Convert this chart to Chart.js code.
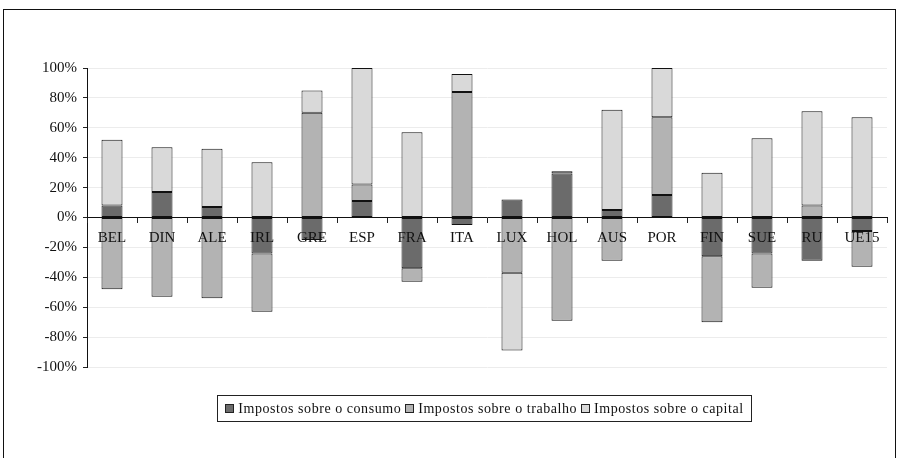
<!DOCTYPE html>
<html lang="pt">
<head>
    <meta charset="UTF-8">
    <title>Impostos</title>
    <script src="https://cdn.jsdelivr.net/npm/chart.js"></script>
    <style>
        body { margin: 0; background: #fff; }
        #wrap { position: relative; width: 901px; height: 458px; overflow: hidden; }
        #frame { position: absolute; left: 3px; top: 9px; width: 893px; height: 470px; border: 1px solid #111; box-sizing: border-box; pointer-events: none; }
        #legend { position: absolute; left: 217px; top: 395px; width: 535px; height: 27px; box-sizing: border-box;
                  border: 1px solid #222; display: flex; align-items: center; justify-content: center;
                  font-family: "Liberation Serif", serif; font-size: 14px; letter-spacing: 0.55px; color: #111; white-space: nowrap; }
        #legend span.item { display: inline-flex; align-items: center; margin: 0 2px; }
        #legend span.box { display: inline-block; width: 7px; height: 7px; border: 1px solid #222; margin-right: 4px; }
    </style>
</head>
<body>
    <div id="wrap">
        <canvas id="chart" width="901" height="458"></canvas>
        <div id="frame"></div>
        <div id="legend"></div>
    </div>

    <script>
        const categories = ['BEL', 'DIN', 'ALE', 'IRL', 'GRE', 'ESP', 'FRA', 'ITA', 'LUX', 'HOL', 'AUS', 'POR', 'FIN', 'SUE', 'RU', 'UE15'];
        const consumo  = [8, 17, 7, -24, -15, 11, -34, -5, 12, 29.5, 5, 15, -26, -24, -29, -9];
        const trabalho = [-48, -53, -54, -39, 70, 11, -9, 84, -37, -69, -29, 52, -44, -23, 8, -24];
        const capital  = [44, 30, 39, 37, 15, 78, 57, 12, -52, 1.5, 67, 33, 30, 53, 63, 67];
        const yTicks = [-100, -80, -60, -40, -20, 0, 20, 40, 60, 80, 100];

        const serif = '"Liberation Serif", "Times New Roman", serif';

        function series(label, data, color) {
            return {
                label: label,
                data: data,
                backgroundColor: color,
                borderColor: '#111',
                borderWidth: 1,
                borderSkipped: false,
                categoryPercentage: 1,
                barPercentage: 0.42
            };
        }

        const ctx = document.getElementById('chart').getContext('2d');
        const chart = new Chart(ctx, {
            type: 'bar',
            data: {
                labels: categories,
                datasets: [
                    series('Impostos sobre o consumo', consumo, '#6b6b6b'),
                    series('Impostos sobre o trabalho', trabalho, '#b3b3b3'),
                    series('Impostos sobre o capital', capital, '#d9d9d9')
                ]
            },
            options: {
                responsive: false,
                animation: false,
                layout: { padding: { left: 0, right: 14, top: 68, bottom: 91 } },
                plugins: {
                    legend: { display: false },
                    tooltip: { enabled: false }
                },
                scales: {
                    x: {
                        stacked: true,
                        position: { y: 0 },
                        // eixo e nomes dos países por cima das barras
                        grid: { z: 1, drawOnChartArea: false, drawTicks: true, tickLength: 5, color: '#222', tickColor: '#222' },
                        border: { z: 1, color: '#111', width: 1 },
                        ticks: { z: 1, color: '#111', padding: 7, font: { family: serif, size: 15 }, maxRotation: 0, autoSkip: false }
                    },
                    y: {
                        stacked: true,
                        min: -100,
                        max: 100,
                        afterBuildTicks: s => { s.ticks = yTicks.map(v => ({ value: v })); },
                        afterFit: s => { s.width = 87; },
                        grid: { color: '#ececec', tickColor: '#222', tickLength: 4 },
                        border: { color: '#111', width: 1 },
                        ticks: { color: '#111', padding: 6, font: { family: serif, size: 15 }, callback: v => v + '%' }
                    }
                }
            }
        });

        // legenda em HTML, gerada a partir das séries
        const legend = document.getElementById('legend');
        chart.data.datasets.forEach(ds => {
            const item = document.createElement('span');
            item.className = 'item';
            const box = document.createElement('span');
            box.className = 'box';
            box.style.background = ds.backgroundColor;
            item.appendChild(box);
            item.appendChild(document.createTextNode(ds.label));
            legend.appendChild(item);
        });
    </script>
</body>
</html>
